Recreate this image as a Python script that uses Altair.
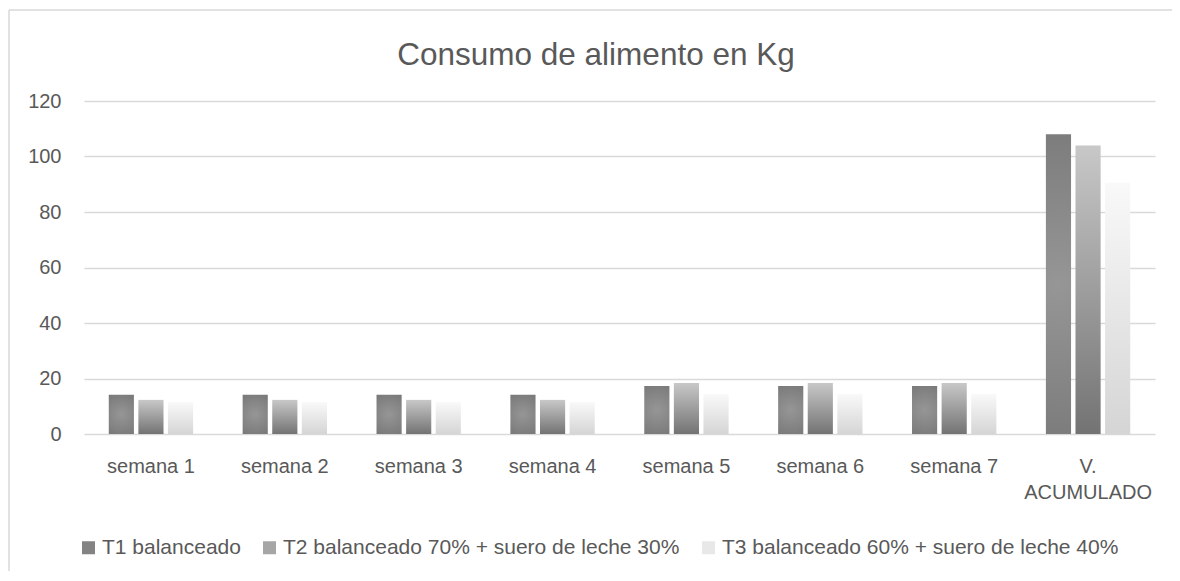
import altair as alt
import pandas as pd

categorias = ["semana 1", "semana 2", "semana 3", "semana 4", "semana 5",
              "semana 6", "semana 7", "V. ACUMULADO"]
series = ["T1 balanceado",
          "T2 balanceado 70% + suero de leche 30%",
          "T3 balanceado 60% + suero de leche 40%"]
t1 = [14.1, 14.1, 14.1, 14.1, 17.3, 17.3, 17.3, 108.0]
t2 = [12.3, 12.3, 12.3, 12.3, 18.4, 18.4, 18.4, 104.0]
t3 = [11.5, 11.5, 11.5, 11.5, 14.4, 14.4, 14.4, 90.5]
y_ticks = [0, 20, 40, 60, 80, 100, 120]
titulo = "Consumo de alimento en Kg"

rows = []
for s, vals in zip(series, [t1, t2, t3]):
    for c, v in zip(categorias, vals):
        rows.append({"semana": c, "serie": s, "valor": v})
df = pd.DataFrame(rows)

FONT = "Liberation Sans"
TXT = "#595959"
W, H = 1071, 333
PAD = {"left": 76, "top": 93, "right": 17, "bottom": 137}

grad_t1 = alt.RadialGradient(
    gradient="radial",
    stops=[alt.GradientStop(offset=0, color="#969696"),
           alt.GradientStop(offset=1, color="#707070")],
    x1=0.5, y1=0.5, r1=0, x2=0.5, y2=0.5, r2=0.75)
grad_t2 = alt.LinearGradient(
    gradient="linear",
    stops=[alt.GradientStop(offset=0, color="#c8c8c8"),
           alt.GradientStop(offset=1, color="#737373")],
    x1=0, y1=0, x2=0, y2=1)
grad_t3 = alt.LinearGradient(
    gradient="linear",
    stops=[alt.GradientStop(offset=0, color="#f9f9f9"),
           alt.GradientStop(offset=1, color="#d5d5d5")],
    x1=0, y1=0, x2=0, y2=1)

x_enc = alt.X("semana:N", sort=categorias,
              scale=alt.Scale(domain=categorias, paddingInner=0.37, paddingOuter=0.185),
              axis=alt.Axis(title=None, labelAngle=0, ticks=False, domain=False,
                            labelPadding=22, labelFontSize=20, labelColor=TXT, labelFont=FONT,
                            labelLineHeight=26, labelLimit=300,
                            labelExpr="datum.label == 'V. ACUMULADO' ? ['V.', 'ACUMULADO'] : datum.label"))
y_enc = alt.Y("valor:Q",
              scale=alt.Scale(domain=[0, 120], nice=False),
              axis=alt.Axis(title=None, values=y_ticks, ticks=False, domain=False,
                            labelPadding=23, labelFontSize=20, labelColor=TXT, labelFont=FONT,
                            gridColor="#d9d9d9", gridWidth=1.4))
xo_enc = alt.XOffset("serie:N", scale=alt.Scale(domain=series, paddingInner=0.15, paddingOuter=0))

base = alt.Chart(df)

def bar_layer(name, grad):
    return base.transform_filter(alt.datum.serie == name).mark_bar(fill=grad).encode(
        x=x_enc, y=y_enc, xOffset=xo_enc)

legend_layer = base.mark_square(size=0, opacity=1).encode(
    x=x_enc, y=y_enc, xOffset=xo_enc,
    color=alt.Color("serie:N",
                    scale=alt.Scale(domain=series, range=["#838383", "#a6a6a6", "#e8e8e8"]),
                    legend=alt.Legend(title=None, orient="none", legendX=-6, legendY=436,
                                      direction="horizontal", symbolType="square",
                                      symbolSize=169, symbolOpacity=1, symbolStrokeWidth=0,
                                      labelFontSize=21, labelColor=TXT, labelFont=FONT,
                                      labelLimit=600, labelOffset=3, columnPadding=18)))

title_layer = alt.Chart(pd.DataFrame({"t": [titulo]})).mark_text(
    font=FONT, fontSize=31.5, color=TXT, align="center", baseline="alphabetic").encode(
    text="t:N", x=alt.value(512), y=alt.value(-36))

border_df = pd.DataFrame({"b": [0]})
border_left = alt.Chart(border_df).mark_rule(color="#d9d9d9", strokeWidth=1.5).encode(
    x=alt.value(-75), y=alt.value(-91), y2=alt.value(H + PAD["bottom"]))
border_top = alt.Chart(border_df).mark_rule(color="#d9d9d9", strokeWidth=1.5).encode(
    x=alt.value(-75), x2=alt.value(W + PAD["right"]), y=alt.value(-91))

chart = alt.layer(
    border_left,
    border_top,
    bar_layer(series[0], grad_t1),
    bar_layer(series[1], grad_t2),
    bar_layer(series[2], grad_t3),
    legend_layer,
    title_layer,
).properties(
    width=W, height=H,
    autosize=alt.AutoSizeParams(type="none"),
    padding=PAD,
).configure_view(stroke=None)

chart.save("out.html", embed_options={"renderer": "svg", "actions": False})
